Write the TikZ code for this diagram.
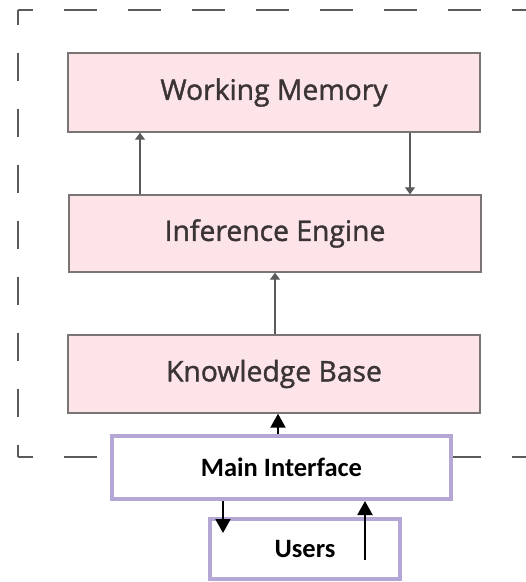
\documentclass[tikz,border=0pt]{standalone}
\usepackage{fontspec}
\setmainfont{Open Sans}
\newfontfamily\boxfont[FakeBold=1.3]{Open Sans}
\newfontfamily\calib{Carlito}
\usetikzlibrary{arrows.meta}
\definecolor{pinkfill}{HTML}{FDE4E9}
\definecolor{boxline}{HTML}{7A7474}
\definecolor{txtgray}{HTML}{3B3434}
\definecolor{purp}{HTML}{B4A7D6}
\definecolor{dashgray}{HTML}{5A5A5A}
\tikzset{
  pinkbox/.style={draw=boxline, line width=1.4pt, fill=pinkfill, minimum width=412pt,
    text=txtgray, font=\boxfont\fontsize{28.3}{30}\selectfont, inner sep=0pt},
  purpbox/.style={draw=purp, line width=4pt, fill=white, text=black,
    font=\calib\bfseries\fontsize{26.5}{30}\selectfont, inner sep=0pt},
  grayarrow/.style={draw=dashgray, line width=1.3pt, -{Triangle[width=10pt,length=7pt]}},
  blackarrow/.style={draw=black, line width=2pt, -{Triangle[width=15pt,length=14pt]}},
  frameline/.style={draw=dashgray, line width=1.5pt}
}
\begin{document}
\begin{tikzpicture}[x=1pt,y=-1pt]
\useasboundingbox (0,0) rectangle (526,582);
% dashed frame
\draw[frameline, dash pattern=on 28pt off 28pt, dash phase=13pt] (18,10) -- (18,457);
\draw[frameline, dash pattern=on 33pt off 31pt, dash phase=18pt] (18,10) -- (600,10);
\draw[frameline, dash pattern=on 33pt off 31pt, dash phase=18pt] (18,457) -- (600,457);
% boxes
\node[pinkbox, minimum height=79pt] (wm) at (274,92.5) {Working Memory};
\node[pinkbox, minimum height=77pt] (ie) at (275,233.5) {Inference Engine};
\node[pinkbox, minimum height=78pt] (kb) at (274,374) {Knowledge Base};
\node[purpbox, minimum width=339pt, minimum height=63pt] (mi) at (281.5,467.5) {Main Interface};
\node[purpbox, minimum width=190pt, minimum height=60pt] (us) at (305,549) {Users};
% gray arrows
\draw[grayarrow] (ie.north -| 140,0) -- (wm.south -| 140,0);
\draw[grayarrow] (wm.south -| 410,0) -- (ie.north -| 410,0);
\draw[grayarrow] (kb.north -| 275,0) -- (ie.south -| 275,0);
% black arrows
\draw[blackarrow] (mi.north -| 278,0) -- (kb.south -| 278,0);
\coordinate (dn) at (223,533);
\coordinate (up) at (365,560);
\draw[blackarrow] (mi.south -| dn) -- (dn);
\draw[blackarrow] (up) -- (mi.south -| up);
\end{tikzpicture}
\end{document}
